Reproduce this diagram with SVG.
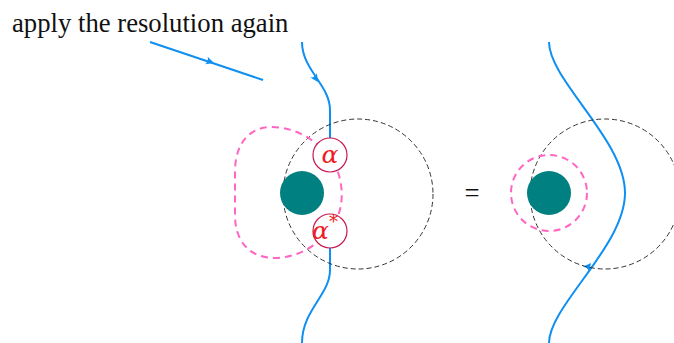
<svg xmlns="http://www.w3.org/2000/svg" width="674" height="343" viewBox="0 0 674 343">
<style>
.blue{fill:none;stroke:#0e8ff2;stroke-width:2}
.bdash{fill:none;stroke:#333;stroke-width:1;stroke-dasharray:5 3}
.pink{fill:none;stroke:#ff66c2;stroke-width:2;stroke-dasharray:7 5}
.disk{fill:#008080}
.coup{fill:#fff;stroke:#c8174f;stroke-width:1.2}
.al{font-family:"DejaVu Serif","Liberation Serif",serif;font-style:italic;font-size:25px;fill:#f01c24;text-anchor:middle}
.lbl{font-family:"Liberation Serif",serif;font-size:26.7px;fill:#111}
.ah{fill:#0e8ff2}
</style>
<defs>
<path id="arr" d="M0,0 L-8,-4 Q-5.5,0 -8,4 Z"/>
</defs>
<text class="lbl" x="12" y="32">apply the resolution again</text>
<g id="connectors">
<path class="blue" d="M150,42 L263,80"/>
<use href="#arr" class="ah" transform="translate(214,63) rotate(18.6)"/>
<path class="blue" d="M302,42 C302,70 330,85 330,110 L330,140"/>
<use href="#arr" class="ah" transform="translate(318,82) rotate(56)"/>
<path class="blue" d="M330,246 L330,270 C330,295 302,310 302,343"/>
<path class="blue" d="M549,42 C549,80 625,140 625,193 C625,246 549,306 549,343"/>
<use href="#arr" class="ah" transform="translate(591,263) rotate(-52)"/>
</g>
<g id="left-diagram">
<circle class="bdash" cx="358" cy="194" r="75"/>
<path class="pink" d="M272,127 C302,127 330,150 338,172 C343,188 343,202 338,216 C330,238 302,258 275,258 C250,258 235,242 235,215 L235,172 C235,145 248,127 272,127 Z"/>
<circle class="disk" cx="302" cy="193" r="22"/>
<g id="alpha">
<circle class="coup" cx="330" cy="155" r="17"/>
<text class="al" x="330" y="163">α</text>
</g>
<g id="alpha-star">
<circle class="coup" cx="330" cy="231" r="17"/>
<text class="al" x="325" y="239">α<tspan font-size="18" font-style="normal" dy="-11">*</tspan></text>
</g>
</g>
<text class="lbl" x="472" y="202" text-anchor="middle">=</text>
<g id="right-diagram">
<circle class="bdash" cx="605" cy="194" r="75"/>
<circle class="pink" cx="549" cy="193" r="38"/>
<circle class="disk" cx="549" cy="193" r="22"/>
</g>
</svg>
